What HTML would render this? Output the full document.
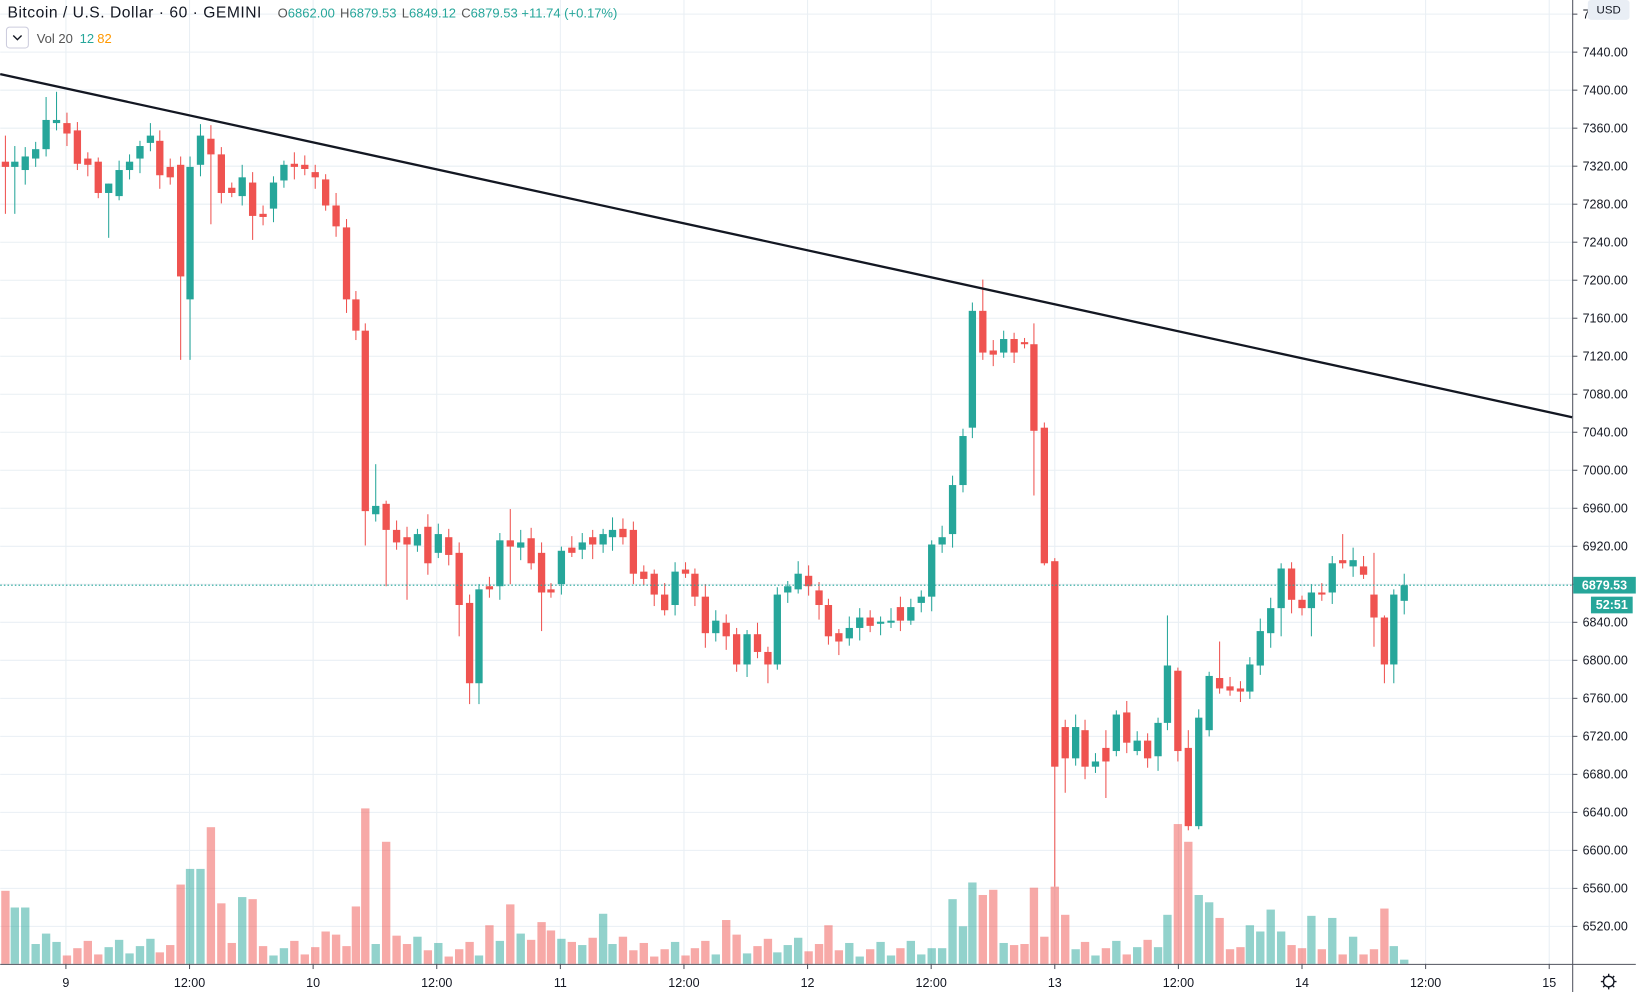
<!DOCTYPE html>
<html><head><meta charset="utf-8"><style>
html,body{margin:0;padding:0;background:#fff;}
svg{display:block}
text{font-family:"Liberation Sans",sans-serif;}
</style></head><body>
<svg id="s" width="1636" height="992" viewBox="0 0 1568 951" xmlns="http://www.w3.org/2000/svg"></svg>
<script>
const s=document.getElementById('s');let h='';
const G='#26a69a',R='#ef5350';
for(let p=7480;p>=6520;p-=40){const y=50+(7440-p)*0.911;h+=`<line x1="0" y1="${y}" x2="1507" y2="${y}" stroke="#e9eff4" stroke-width="1"/>`;}
for(let k=0;k<13;k++){const x=63+118.5*k;h+=`<line x1="${x}" y1="0" x2="${x}" y2="924" stroke="#e9eff4" stroke-width="1"/>`;}
const C=[[5,155,160],[14,160,155],[24,163,150],[34,152,143],[44,143,115],[54,118,115],[64,118,128],[74,125,157],[84,152,158],[94,155,185],[104,185,176],[114,188,163],[124,163,155],[134,152,140],[144,137,130],[153,135,168],[163,160,170],[173,158,265],[182,287,160],[192,158,130],[202,133,148],[212,148,185],[222,180,185],[232,188,170],[242,175,207],[252,205,208],[262,200,175],[272,173,158],[282,157,160],[292,158,162],[302,165,170],[312,172,197],[322,197,217],[332,218,287],[341,287,317],[350,317,490],[360,493,485],[370,483,508],[380,508,520],[390,515,522],[400,523,512],[410,505,540],[420,530,512],[430,515,532],[440,530,580],[450,578,655],[459,655,565],[469,562,565],[479,562,518],[489,518,524],[499,525,520],[509,516,540],[519,530,568],[528,565,568],[538,560,528],[548,525,530],[558,527,520],[568,515,522],[578,522,512],[587,515,508],[597,507,515],[607,508,550],[617,548,555],[627,550,570],[637,570,585],[647,580,548],[657,546,550],[666,550,572],[676,572,607],[686,607,595],[696,597,610],[706,608,637],[716,637,608],[726,608,625],[736,625,637],[745,637,570],[755,568,562],[765,565,550],[775,552,562],[785,566,580],[794,580,610],[804,607,615],[814,612,602],[824,602,592],[834,592,600],[844,598,596],[854,597,595],[863,582,595],[873,595,582],[883,578,572],[893,572,522],[903,522,515],[913,512,465],[923,465,418],[932,410,298],[942,298,338],[952,336,340],[962,338,325],[972,325,338],[982,328,330],[991,330,413],[1001,410,540],[1011,538,735],[1021,697,727],[1031,727,697],[1040,700,735],[1050,735,730],[1060,717,730],[1070,720,685],[1080,683,712],[1090,720,710],[1100,710,727],[1110,725,693],[1119,693,638],[1129,643,720],[1139,717,792],[1149,792,688],[1159,700,648],[1169,650,660],[1179,658,662],[1189,660,663],[1198,663,637],[1208,638,605],[1218,607,583],[1228,583,545],[1238,545,575],[1248,575,583],[1257,583,568],[1267,568,570],[1277,568,540],[1287,537,540],[1297,543,537],[1307,543,551],[1317,570,592],[1327,592,637],[1336,637,570],[1346,576,561]];
const W={5:[130,205],14:[140,205],44:[93,150],54:[88,125],104:[176,228],173:[150,345],182:[150,345],202:[120,215],242:[165,230],332:[210,300],350:[310,523],360:[445,500],370:[480,562],390:[505,575],440:[520,610],450:[570,675],459:[560,675],489:[488,560],519:[520,605],607:[500,560],736:[620,655],1001:[405,542],1011:[535,850],1021:[690,760],1060:[700,765],1119:[590,700],1129:[640,730],1139:[700,796],1149:[680,795],1169:[615,665],1198:[630,670],1228:[540,610],1257:[560,610],1287:[512,545],1317:[530,620],1327:[590,655],1336:[565,655],942:[268,345],932:[290,420],991:[310,475]};
const V={5:854,14:870,24:870,34:905,44:895,54:903,173:848,182:833,192:833,202:793,212:866,232:860,242:862,252:907,312:893,322:896,341:869,350:775,370:807,360:905,380:897,429:876,439:880,449:872,469:887,489:867,499:895,519:884,528:892,548:903,578:876,696:882,706:896,794:887,893:909,903:909,913:862,923:888,932:846,942:858,952:853,962:904,972:906,991:851,1001:898,1011:850,1021:877,1110:908,1119:877,1129:790,1139:807,1149:858,1159:865,1169:880,1179:910,1189:908,1198:887,1208:893,1218:872,1228:893,1238:906,1248:909,1257:878,1267:910,1277:880,1287:915,1297:898,1307:915,1317:910,1327:871,1336:907,1346:920};
let vb='',cb='';
C.forEach(([x,o,c],i)=>{const col=c<o?G:R;const t=Math.min(o,c),b=Math.max(o,c);
 const w=W[x]||[t-4-(i*7%9),b+4+(i*5%11)];
 cb+=`<line x1="${x}" y1="${w[0]}" x2="${x}" y2="${w[1]}" stroke="${col}" stroke-width="1"/>`;
 cb+=`<rect x="${x-3.5}" y="${t}" width="7" height="${Math.max(1,b-t)}" fill="${col}"/>`;
 const vt=V[x]||(898+(i*13%20));
 vb+=`<rect x="${x-4}" y="${vt}" width="8" height="${924-vt}" fill="${c<o?'rgba(38,166,154,0.5)':'rgba(239,83,80,0.5)'}"/>`;
});
h+=vb+cb;
h+=`<line x1="0" y1="71" x2="1507" y2="400" stroke="#131722" stroke-width="2.2"/>`;
h+=`<line x1="0" y1="561" x2="1507" y2="561" stroke="${G}" stroke-width="1" stroke-dasharray="1.5,2"/>`;
h+=`<rect x="1508" y="0" width="60" height="951" fill="#fff"/><rect x="0" y="925" width="1568" height="26" fill="#fff"/>`;
h+=`<line x1="1507.5" y1="0" x2="1507.5" y2="951" stroke="#50535e" stroke-width="1"/><line x1="0" y1="924.5" x2="1568" y2="924.5" stroke="#50535e" stroke-width="1"/>`;
for(let p=7480;p>=6520;p-=40){const y=50+(7440-p)*0.911;h+=`<line x1="1507" y1="${y}" x2="1512" y2="${y}" stroke="#50535e"/><text x="1517" y="${y+4}" font-size="12" fill="#131722">${p}.00</text>`;}
h+=`<rect x="1522" y="0" width="40" height="19" rx="3" fill="#e9eef5"/><text x="1542" y="13" font-size="11" fill="#131722" text-anchor="middle">USD</text>`;
h+=`<rect x="1508" y="553" width="60" height="16" fill="${G}"/><text x="1538" y="565" font-size="12" fill="#fff" text-anchor="middle" font-weight="bold">6879.53</text>`;
h+=`<rect x="1525" y="572" width="40" height="16" fill="${G}"/><text x="1545" y="584" font-size="12" fill="#fff" text-anchor="middle" font-weight="bold">52:51</text>`;
['9','12:00','10','12:00','11','12:00','12','12:00','13','12:00','14','12:00','15'].forEach((t,k)=>{const x=63+118.5*k;h+=`<line x1="${x}" y1="924" x2="${x}" y2="929" stroke="#50535e"/><text x="${x}" y="946" font-size="12" fill="#131722" text-anchor="middle">${t}</text>`;});
h+=`<circle cx="1542" cy="941" r="5" fill="none" stroke="#131722" stroke-width="1.3"/>`;
for(let a=0;a<8;a++){const r=a*Math.PI/4;h+=`<line x1="${1542+5*Math.cos(r)}" y1="${941+5*Math.sin(r)}" x2="${1542+7.5*Math.cos(r)}" y2="${941+7.5*Math.sin(r)}" stroke="#131722" stroke-width="1.3"/>`;}
h+=`<text x="7" y="17" font-size="15" letter-spacing="0.5" fill="#131722">Bitcoin / U.S. Dollar · 60 · GEMINI</text>`;
h+=`<text x="266" y="17" font-size="12.5"><tspan fill="#555">O</tspan><tspan fill="${G}">6862.00</tspan><tspan fill="#555" dx="5">H</tspan><tspan fill="${G}">6879.53</tspan><tspan fill="#555" dx="5">L</tspan><tspan fill="${G}">6849.12</tspan><tspan fill="#555" dx="5">C</tspan><tspan fill="${G}">6879.53 +11.74 (+0.17%)</tspan></text>`;
h+=`<rect x="6" y="26" width="21" height="20" rx="3" fill="#fff" stroke="#ccd"/><path d="M12.5 34 l4 4 l4 -4" fill="none" stroke="#131722" stroke-width="1.3"/>`;
h+=`<text x="35" y="41" font-size="12.5" fill="#555">Vol 20 <tspan fill="${G}" dx="3">12</tspan><tspan fill="#ff9800" dx="3">82</tspan></text>`;
s.innerHTML=h;
</script>
</body></html>
